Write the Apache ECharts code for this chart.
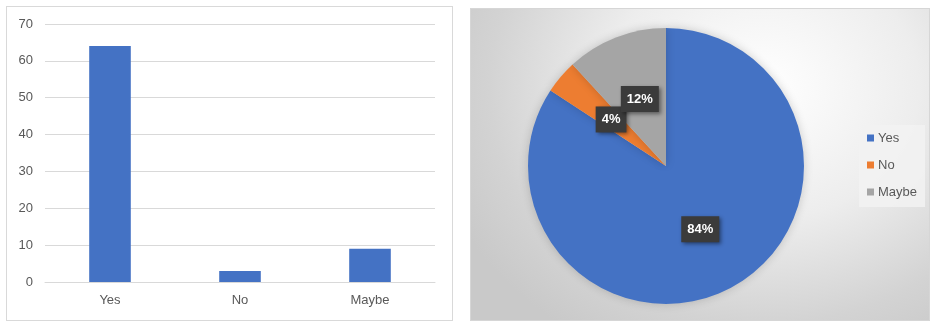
<!DOCTYPE html>
<html>
<head>
<meta charset="utf-8">
<script src="https://cdn.jsdelivr.net/npm/echarts@6/dist/echarts.min.js"></script>
<style>
  html, body { margin: 0; padding: 0; background: #ffffff; width: 930px; height: 321px; overflow: hidden; }
  #bar {
    position: absolute; left: 6px; top: 6px; width: 447px; height: 315px;
    box-sizing: border-box; border: 1px solid #d9d9d9; background: #ffffff;
  }
  #pie {
    position: absolute; left: 470px; top: 8px; width: 460px; height: 313px;
    box-sizing: border-box; border: 1px solid #d6d6d6;
    background: radial-gradient(ellipse 75% 95% at 64% 25%, #ffffff 0%, #ededed 45%, #d3d3d3 80%, #c9c9c9 100%);
  }
</style>
</head>
<body>
<div id="bar"></div>
<div id="pie"></div>
<script>
// Survey answers and their counts
const categories = ['Yes', 'No', 'Maybe'];
const counts = [64, 3, 9];
const yTicks = [0, 10, 20, 30, 40, 50, 60, 70];
const sliceColors = ['#4472c4', '#ed7d31', '#a5a5a5'];

const font = '"Liberation Sans", Arial, sans-serif';
const textGrey = '#595959';

// Column chart of the raw counts
const barChart = echarts.init(document.getElementById('bar'), null, { renderer: 'canvas' });
barChart.setOption({
  animation: false,
  grid: { left: 38, top: 17, width: 390, height: 258, containLabel: false },
  xAxis: {
    type: 'category',
    data: categories,
    axisLine: { show: true, lineStyle: { color: '#d9d9d9', width: 1 } },
    axisTick: { show: false },
    axisLabel: { color: textGrey, fontFamily: font, fontSize: 13, margin: 12 }
  },
  yAxis: {
    type: 'value',
    min: yTicks[0],
    max: yTicks[yTicks.length - 1],
    interval: yTicks[1] - yTicks[0],
    axisLine: { show: false },
    axisTick: { show: false },
    splitLine: { lineStyle: { color: '#d9d9d9', width: 1 } },
    axisLabel: { color: textGrey, fontFamily: font, fontSize: 13, margin: 12 }
  },
  series: [{
    type: 'bar',
    data: counts,
    barWidth: '32%',
    itemStyle: { color: sliceColors[0] }
  }]
});

// Pie of the same counts as percentages
const pieChart = echarts.init(document.getElementById('pie'), null, { renderer: 'canvas' });
pieChart.setOption({
  animation: false,
  color: sliceColors,
  legend: {
    orient: 'vertical',
    left: 388,
    top: 116,
    data: categories,
    icon: 'rect',
    itemWidth: 7,
    itemHeight: 7,
    itemGap: 13,
    padding: [6, 8, 8, 8],
    backgroundColor: 'rgba(242,242,242,0.85)',
    textStyle: { color: textGrey, fontFamily: font, fontSize: 13, lineHeight: 14, padding: [0, 0, 0, -1] }
  },
  series: [{
    type: 'pie',
    center: [195, 157],
    radius: 138,
    startAngle: 90,
    clockwise: true,
    percentPrecision: 0,
    avoidLabelOverlap: false,
    minShowLabelAngle: 0,
    data: categories.map((name, i) => ({ name, value: counts[i] })),
    itemStyle: { borderWidth: 0, shadowBlur: 10, shadowColor: 'rgba(0,0,0,0.18)' },
    label: {
      show: true,
      position: 'inside',
      formatter: '{d}%',
      color: '#ffffff',
      fontFamily: font,
      fontSize: 13,
      fontWeight: 'bold',
      backgroundColor: '#3b3b3b',
      padding: [7, 6, 6, 6],
      shadowBlur: 4,
      shadowOffsetX: 2,
      shadowOffsetY: 2,
      shadowColor: 'rgba(0,0,0,0.45)'
    },
    labelLayout: { hideOverlap: false },
    labelLine: { show: false },
    emphasis: { disabled: true }
  }]
});
</script>
</body>
</html>
